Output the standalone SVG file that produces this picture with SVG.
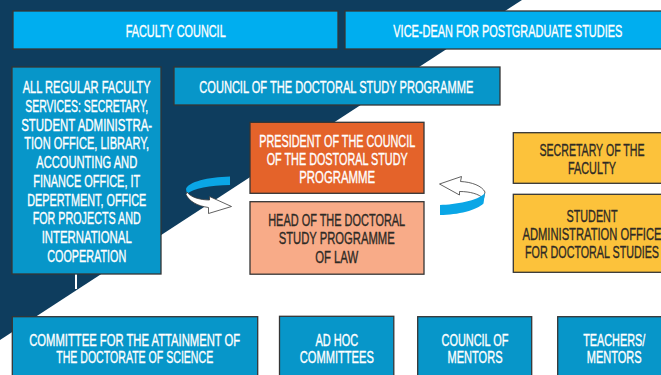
<svg xmlns="http://www.w3.org/2000/svg" width="661" height="375" viewBox="0 0 661 375">
<style>
.box{stroke:#353535;stroke-width:1.3}
.cyan{fill:#00aeef}
.blue{fill:#0796c9}
.orange{fill:#e4632a}
.salmon{fill:#f8ab88}
.yellow{fill:#fcc23b}
text{font-family:"Liberation Sans",Arial,sans-serif;font-size:16px;text-anchor:middle;stroke-width:0.35}
.w{fill:#ffffff;stroke:#ffffff}
.d{fill:#2e2a25;stroke:#2e2a25}
.conn{stroke:#ffffff;stroke-width:2;fill:none}
.arrW{fill:#ffffff;stroke:#3a3a3a;stroke-width:0.8}
.arrB{fill:#0aa6e6}
</style>
<rect x="0" y="0" width="661" height="375" fill="#ffffff"/>
<polygon points="0,0 522,0 0,340" fill="#0e3d5e"/>

<g id="connectors">
<line class="conn" x1="76" y1="274" x2="76" y2="289"/>
<path class="arrB" d="M186,189 C188,182 208,177 230,176.5 L230,185 C210,185.5 193,188 187,194 Z"/>
<path class="arrW" d="M187,192 C190,197 200,200 209.5,200 L209.5,196.5 L231.5,206.5 L208.5,213.5 L208.5,207.5 C197,206 189,201 186,194.5 Z"/>
<path class="arrW" d="M439.5,184 L461.5,176.5 L460.5,181.5 C472,182 482,186 485,192 L483.5,198.5 C479,194 470,191.5 459.5,191.5 L459.5,195 Z"/>
<path class="arrB" d="M440,205 C455,204.5 478,201 485,193 L483.5,203.5 C477,210 458,215 440,215 Z"/>
</g>

<g id="faculty-council">
<rect class="box cyan" x="13" y="11" width="325" height="38"/>
<text class="w" x="175.7" y="36.7" textLength="100" lengthAdjust="spacingAndGlyphs">FACULTY COUNCIL</text>
</g>

<g id="vice-dean">
<rect class="box cyan" x="345" y="11" width="330" height="38"/>
<text class="w" x="507.8" y="36.7" textLength="229" lengthAdjust="spacingAndGlyphs">VICE-DEAN FOR POSTGRADUATE STUDIES</text>
</g>

<g id="council-doctoral">
<rect class="box blue" x="174" y="67" width="326" height="38"/>
<text class="w" x="336.3" y="92.5" textLength="274" lengthAdjust="spacingAndGlyphs">COUNCIL OF THE DOCTORAL STUDY PROGRAMME</text>
</g>

<g id="faculty-services">
<rect class="box blue" x="12" y="67" width="149" height="207"/>
<text class="w" x="86.7" y="93.3" textLength="128" lengthAdjust="spacingAndGlyphs">ALL REGULAR FACULTY</text>
<text class="w" x="86.7" y="112" textLength="123" lengthAdjust="spacingAndGlyphs">SERVICES: SECRETARY,</text>
<text class="w" x="86.7" y="130.7" textLength="131" lengthAdjust="spacingAndGlyphs">STUDENT ADMINISTRA-</text>
<text class="w" x="86.7" y="149.4" textLength="125" lengthAdjust="spacingAndGlyphs">TION OFFICE, LIBRARY,</text>
<text class="w" x="86.7" y="168.1" textLength="101" lengthAdjust="spacingAndGlyphs">ACCOUNTING AND</text>
<text class="w" x="86.7" y="186.8" textLength="107" lengthAdjust="spacingAndGlyphs">FINANCE OFFICE, IT</text>
<text class="w" x="86.7" y="205.5" textLength="119" lengthAdjust="spacingAndGlyphs">DEPERTMENT, OFFICE</text>
<text class="w" x="86.7" y="224.2" textLength="108" lengthAdjust="spacingAndGlyphs">FOR PROJECTS AND</text>
<text class="w" x="86.7" y="242.9" textLength="90" lengthAdjust="spacingAndGlyphs">INTERNATIONAL</text>
<text class="w" x="86.7" y="261.6" textLength="79" lengthAdjust="spacingAndGlyphs">COOPERATION</text>
</g>

<g id="president">
<rect class="box orange" x="250" y="122.3" width="174" height="71"/>
<text class="w" x="337.2" y="147" textLength="156" lengthAdjust="spacingAndGlyphs">PRESIDENT OF THE COUNCIL</text>
<text class="w" x="337.2" y="165" textLength="141" lengthAdjust="spacingAndGlyphs">OF THE DOSTORAL STUDY</text>
<text class="w" x="337.2" y="183" textLength="76" lengthAdjust="spacingAndGlyphs">PROGRAMME</text>
</g>

<g id="head">
<rect class="box salmon" x="250" y="201.7" width="174" height="72.5"/>
<text class="d" x="336.7" y="226" textLength="137" lengthAdjust="spacingAndGlyphs">HEAD OF THE DOCTORAL</text>
<text class="d" x="336.7" y="244.3" textLength="116" lengthAdjust="spacingAndGlyphs">STUDY PROGRAMME</text>
<text class="d" x="336.7" y="262.7" textLength="43" lengthAdjust="spacingAndGlyphs">OF LAW</text>
</g>

<g id="secretary">
<rect class="box yellow" x="513.3" y="132.7" width="160" height="50.6"/>
<text class="d" x="592" y="156" textLength="105" lengthAdjust="spacingAndGlyphs">SECRETARY OF THE</text>
<text class="d" x="592" y="174" textLength="48" lengthAdjust="spacingAndGlyphs">FACULTY</text>
</g>

<g id="student-admin">
<rect class="box yellow" x="513.3" y="194.3" width="160" height="78"/>
<text class="d" x="592" y="221.7" textLength="51" lengthAdjust="spacingAndGlyphs">STUDENT</text>
<text class="d" x="592" y="240" textLength="139" lengthAdjust="spacingAndGlyphs">ADMINISTRATION OFFICE</text>
<text class="d" x="592" y="258.3" textLength="134" lengthAdjust="spacingAndGlyphs">FOR DOCTORAL STUDIES</text>
</g>

<g id="committee-doctorate">
<rect class="box blue" x="12.3" y="316.7" width="245.4" height="70"/>
<text class="w" x="134.7" y="346" textLength="211" lengthAdjust="spacingAndGlyphs">COMMITTEE FOR THE ATTAINMENT OF</text>
<text class="w" x="134.7" y="363.3" textLength="157" lengthAdjust="spacingAndGlyphs">THE DOCTORATE OF SCIENCE</text>
</g>

<g id="ad-hoc">
<rect class="box blue" x="279.5" y="316.3" width="114.3" height="70"/>
<text class="w" x="336.8" y="345.7" textLength="42.6" lengthAdjust="spacingAndGlyphs">AD HOC</text>
<text class="w" x="336.8" y="363.3" textLength="74" lengthAdjust="spacingAndGlyphs">COMMITTEES</text>
</g>

<g id="council-mentors">
<rect class="box blue" x="417.7" y="316.7" width="114" height="70"/>
<text class="w" x="475" y="346" textLength="67" lengthAdjust="spacingAndGlyphs">COUNCIL OF</text>
<text class="w" x="475" y="363.3" textLength="55" lengthAdjust="spacingAndGlyphs">MENTORS</text>
</g>

<g id="teachers-mentors">
<rect class="box blue" x="557.7" y="316.7" width="120" height="70"/>
<text class="w" x="614.2" y="346" textLength="62" lengthAdjust="spacingAndGlyphs">TEACHERS/</text>
<text class="w" x="614.2" y="363.3" textLength="55" lengthAdjust="spacingAndGlyphs">MENTORS</text>
</g>
</svg>
